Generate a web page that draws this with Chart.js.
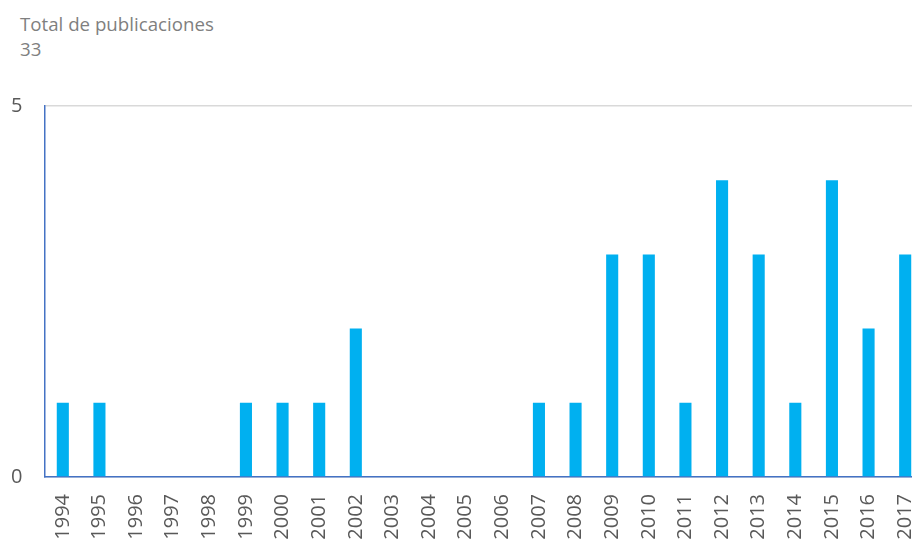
<!DOCTYPE html>
<html>
<head>
<meta charset="utf-8">
<script src="https://cdn.jsdelivr.net/npm/chart.js@4"></script>
<style>
  html, body { margin: 0; padding: 0; background: #fff; overflow: hidden; width: 912px; height: 540px; }
  #wrap { position: relative; width: 930px; height: 580px; }
  #title { position: absolute; left: 20px; top: 11px; font-family: "Open Sans", sans-serif; font-size: 18.7px; line-height: 25px; color: #7f7f7f; }
  canvas { position: absolute; left: 0; top: 0; }
</style>
</head>
<body>
<div id="wrap">
  <div id="title">Total de publicaciones<br>33</div>
  <canvas id="c" width="930" height="580"></canvas>
</div>
<script>
const years = ['1994','1995','1996','1997','1998','1999','2000','2001','2002','2003','2004','2005',
  '2006','2007','2008','2009','2010','2011','2012','2013','2014','2015','2016','2017'];
const publicaciones = [1,1,0,0,0,1,1,1,2,0,0,0,0,1,1,3,3,1,4,3,1,4,2,3];
const yTicks = [0, 5];

const ctx = document.getElementById('c').getContext('2d');
new Chart(ctx, {
  type: 'bar',
  data: { labels: years, datasets: [
    { data: publicaciones, backgroundColor: '#00b0f0', borderWidth: 0, barPercentage: 0.33, categoryPercentage: 1 }
  ]},
  options: {
    responsive: false, animation: false,
    layout: { padding: { top: 106, right: 6.5, left: 0, bottom: 0 } },
    plugins: { legend: { display: false }, tooltip: { enabled: false } },
    scales: {
      x: {
        grid: { display: false, drawTicks: false },
        border: { display: true, color: '#4472c4', width: 1.5 },
        ticks: { minRotation: 90, maxRotation: 90, autoSkip: false, padding: 17, color: '#595959', font: { family: 'Open Sans', size: 20 } },
        afterFit: (s) => { s.height = 103; s.paddingLeft = 0; s.paddingRight = 0; }
      },
      y: {
        min: 0, max: 5,
        afterBuildTicks: (s) => { s.ticks = yTicks.map(v => ({ value: v })); },
        grid: { color: '#d9d9d9', lineWidth: 1.5, drawTicks: false },
        border: { display: true, color: '#4472c4', width: 1.5 },
        ticks: { padding: 22, color: '#595959', font: { family: 'Open Sans', size: 20 } },
        afterFit: (s) => { s.width = 44.5; }
      }
    }
  }
});
</script>
</body>
</html>
